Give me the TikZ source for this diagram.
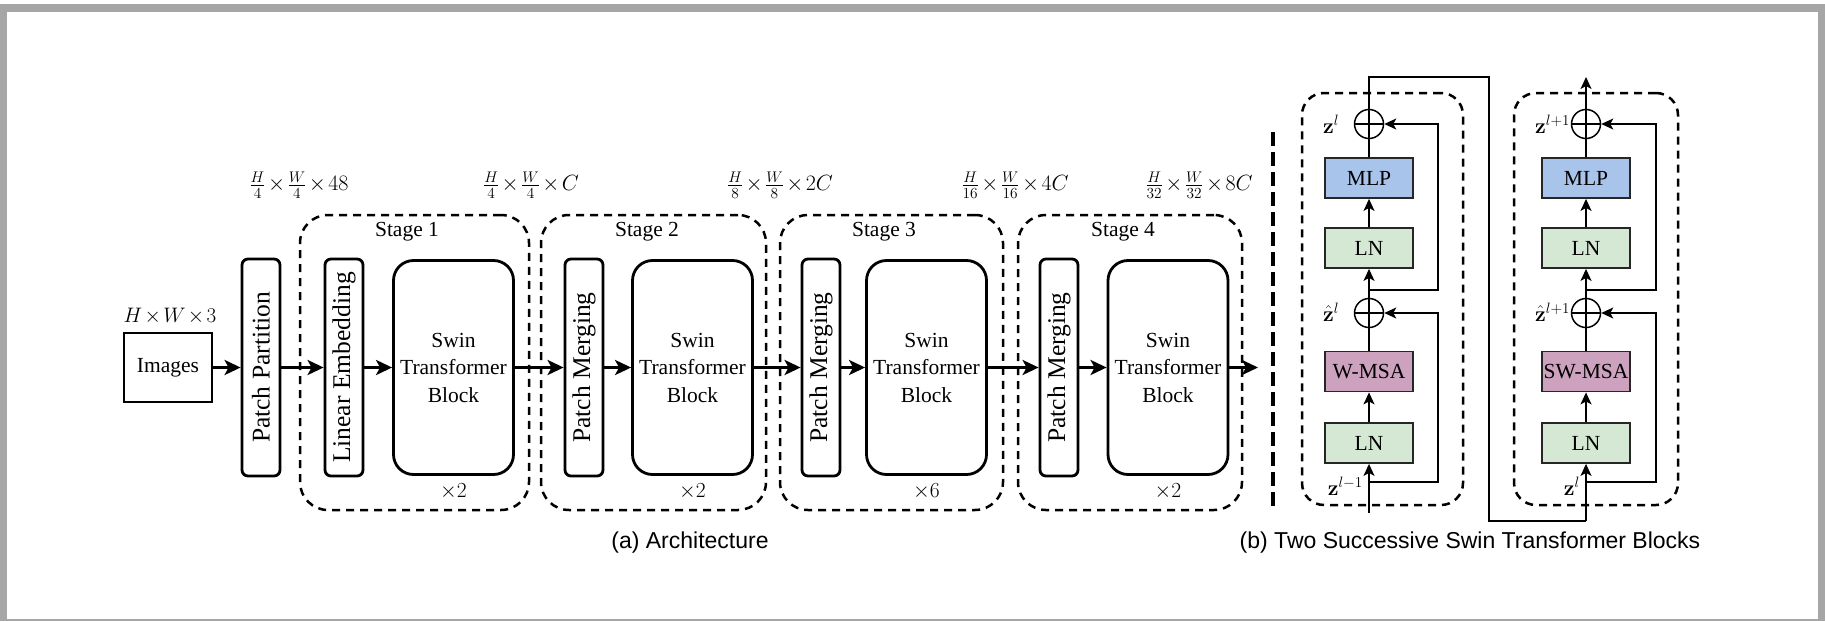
\RequirePackage{fix-cm}
\documentclass[tikz,border=0pt]{standalone}
\usepackage{amsmath}
\usepackage[no-math]{fontspec}
\setmainfont{Liberation Serif}
\newfontfamily\capfont{Liberation Sans}
\usetikzlibrary{arrows.meta}

\definecolor{mlpblue}{HTML}{A9C4EB}
\definecolor{lngreen}{HTML}{D5E8D4}
\definecolor{msapurple}{HTML}{CDA2BE}
\definecolor{framegray}{HTML}{A6A6A6}

\newcommand{\sumradius}{29pt}
\newcommand{\dimtxt}[1]{$\medmuskip=2mu\relax #1$}
\tikzset{txt/.style={font=\fontsize{21.5}{27.5}\selectfont},
  dimlbl/.style={font=\fontsize{22}{26}\selectfont},
  caption/.style={font=\capfont\fontsize{23}{27}\selectfont},
  imgbox/.style={draw, line width=2.8pt, minimum width=88pt, minimum height=69pt, txt},
  vbar/.style={draw, line width=2.8pt, rounded corners=6pt, rotate=90, minimum width=217pt, minimum height=38pt, inner sep=0pt, font=\fontsize{25.5}{30}\selectfont},
  stbbox/.style={draw, line width=2.8pt, rounded corners=20pt, minimum width=120pt, minimum height=214pt, align=center, txt},
  stagebox/.style={draw, line width=2.5pt, dash pattern=on 8pt off 6pt, rounded corners=28pt},
  sepline/.style={line width=4.5pt, dash pattern=on 14pt off 6pt},
  bigarr/.style={line width=3pt, -{Stealth[length=16pt,width=15pt,inset=4pt]}},
  opbox/.style={draw=black!85, line width=1.8pt, minimum width=88pt, minimum height=40pt, inner xsep=1pt, txt},
  sumpt/.style={circle, draw, line width=1.5pt, minimum width=\sumradius, inner sep=0pt},
  thinline/.style={line width=1.5pt},
  thinarr/.style={line width=1.5pt, -{Stealth[length=12pt,width=11pt,inset=3pt]}}}

\begin{document}
\begin{tikzpicture}[x=1pt, y=-1pt]

\fill[white] (0,0) rectangle (1825,621);
\fill[framegray] (0,4) rectangle (1825,621);
\fill[white] (7,12) rectangle (1818,619);
\useasboundingbox (0,0) rectangle (1825,621);

% (a) architecture
\node[stagebox, minimum width=229pt, minimum height=295pt] (s1) at (414.5,362.5) {};
\node[stagebox, minimum width=225pt, minimum height=295pt] (s2) at (653.5,362.5) {};
\node[stagebox, minimum width=223pt, minimum height=295pt] (s3) at (891.5,362.5) {};
\node[stagebox, minimum width=224pt, minimum height=295pt] (s4) at (1130,362.5) {};
\node[txt] (s1lbl) at (407,232) {Stage 1};
\node[txt] (s2lbl) at (647,232) {Stage 2};
\node[txt] (s3lbl) at (884,232) {Stage 3};
\node[txt] (s4lbl) at (1123,232) {Stage 4};

\node[imgbox] (img) at (168,367.5) {Images};
\node[font=\fontsize{21}{25}\selectfont] (imgdim) at (170,316) {\dimtxt{H\times W\times 3}};
\node[vbar] (pp) at (261,367.5) {Patch Partition};
\node[vbar] (le) at (344,367.5) {Linear Embedding};
\node[stbbox] (stb1) at (453.5,367.5) {Swin\\Transformer\\Block};
\node[vbar] (pm2) at (584,367.5) {Patch Merging};
\node[stbbox] (stb2) at (692.5,367.5) {Swin\\Transformer\\Block};
\node[vbar] (pm3) at (821,367.5) {Patch Merging};
\node[stbbox] (stb3) at (926.5,367.5) {Swin\\Transformer\\Block};
\node[vbar] (pm4) at (1059,367.5) {Patch Merging};
\node[stbbox] (stb4) at (1168,367.5) {Swin\\Transformer\\Block};
\coordinate (out) at (1258,367.5);

\node[txt] (rep1) at (453.5,491) {$\times 2$};
\node[txt] (rep2) at (692.5,491) {$\times 2$};
\node[txt] (rep3) at (926.5,491) {$\times 6$};
\node[txt] (rep4) at (1168,491) {$\times 2$};

\node[dimlbl] (d0) at (299,185) {\dimtxt{\frac{H}{4}\times\frac{W}{4}\times 48}};
\node[dimlbl] (d1) at (531,185) {\dimtxt{\frac{H}{4}\times\frac{W}{4}\times C}};
\node[dimlbl] (d2) at (780,185) {\dimtxt{\frac{H}{8}\times\frac{W}{8}\times 2C}};
\node[dimlbl] (d3) at (1015,185) {\dimtxt{\frac{H}{16}\times\frac{W}{16}\times 4C}};
\node[dimlbl] (d4) at (1199,185) {\dimtxt{\frac{H}{32}\times\frac{W}{32}\times 8C}};

\draw[bigarr] (img) -- (pp);
\draw[bigarr] (pp) -- (le);
\draw[bigarr] (le) -- (stb1);
\draw[bigarr] (stb1) -- (pm2);
\draw[bigarr] (pm2) -- (stb2);
\draw[bigarr] (stb2) -- (pm3);
\draw[bigarr] (pm3) -- (stb3);
\draw[bigarr] (stb3) -- (pm4);
\draw[bigarr] (pm4) -- (stb4);
\draw[bigarr] (stb4) -- (out);

\coordinate (septop) at (1273,132);
\coordinate (sepbot) at (1273,510);
\draw[sepline] (septop) -- (sepbot);

% (b) two blocks
\node[stagebox, rounded corners=22pt, minimum width=161pt, minimum height=412pt] (blk1) at (1382.5,299) {};
\node[stagebox, rounded corners=22pt, minimum width=164pt, minimum height=412pt] (blk2) at (1596,299) {};

\node[opbox, fill=lngreen] (ln1a) at (1369,443) {LN};
\node[opbox, fill=msapurple] (msa1) at (1369,371.5) {W-MSA};
\node[sumpt] (add1a) at (1369,313) {};
\node[opbox, fill=lngreen] (ln1b) at (1369,248) {LN};
\node[opbox, fill=mlpblue] (mlp1) at (1369,178) {MLP};
\node[sumpt] (add1b) at (1369,124) {};

\node[opbox, fill=lngreen] (ln2a) at (1586,443) {LN};
\node[opbox, fill=msapurple] (msa2) at (1586,371.5) {SW-MSA};
\node[sumpt] (add2a) at (1586,313) {};
\node[opbox, fill=lngreen] (ln2b) at (1586,248) {LN};
\node[opbox, fill=mlpblue] (mlp2) at (1586,178) {MLP};
\node[sumpt] (add2b) at (1586,124) {};

\draw[thinline] (add1a.north) -- (add1a.south) (add1a.west) -- (add1a.east);
\draw[thinline] (add1b.north) -- (add1b.south) (add1b.west) -- (add1b.east);
\draw[thinline] (add2a.north) -- (add2a.south) (add2a.west) -- (add2a.east);
\draw[thinline] (add2b.north) -- (add2b.south) (add2b.west) -- (add2b.east);

\coordinate (in1) at (1369,513);
\coordinate (j1a) at (1369,482);
\coordinate (j1b) at (1369,290);
\coordinate (top1) at (1369,77);
\coordinate (turn) at (1489,521);
\coordinate (in2) at (1586,521);
\coordinate (j2a) at (1586,482);
\coordinate (j2b) at (1586,290);
\coordinate (out2) at (1586,77);

\draw[thinarr] (in1) -- (ln1a);
\draw[thinarr] (ln1a) -- (msa1);
\draw[thinline] (msa1) -- (add1a);
\draw[thinarr] (add1a) -- (ln1b);
\draw[thinarr] (ln1b) -- (mlp1);
\draw[thinline] (mlp1) -- (add1b);
\draw[thinarr] (j1a) -- ++(69,0) |- (add1a);
\draw[thinarr] (j1b) -- ++(69,0) |- (add1b);
\draw[thinline] (add1b) -- (top1) -| (turn) -- (in2);

\draw[thinarr] (in2) -- (ln2a);
\draw[thinarr] (ln2a) -- (msa2);
\draw[thinline] (msa2) -- (add2a);
\draw[thinarr] (add2a) -- (ln2b);
\draw[thinarr] (ln2b) -- (mlp2);
\draw[thinline] (mlp2) -- (add2b);
\draw[thinarr] (j2a) -- ++(70,0) |- (add2a);
\draw[thinarr] (j2b) -- ++(70,0) |- (add2b);
\draw[thinarr] (add2b) -- (out2);

\node[txt, anchor=west, inner sep=0pt] (z1) at (1323,124) {$\mathbf{z}^l$};
\node[txt, anchor=west, inner sep=0pt] (zh1) at (1323,312) {$\hat{\mathbf{z}}^l$};
\node[txt, anchor=east, inner sep=0pt] (z0) at (1363,486) {$\mathbf{z}^{l-1}$};
\node[txt, anchor=west, inner sep=0pt] (z2) at (1535,124) {$\mathbf{z}^{l+1}$};
\node[txt, anchor=west, inner sep=0pt] (zh2) at (1535,312) {$\hat{\mathbf{z}}^{l+1}$};
\node[txt, anchor=east, inner sep=0pt] (z1b) at (1580,486) {$\mathbf{z}^l$};

\node[caption] (capa) at (690,543) {(a) Architecture};
\node[caption] (capb) at (1470,543) {(b) Two Successive Swin Transformer Blocks};
\end{tikzpicture}
\end{document}
